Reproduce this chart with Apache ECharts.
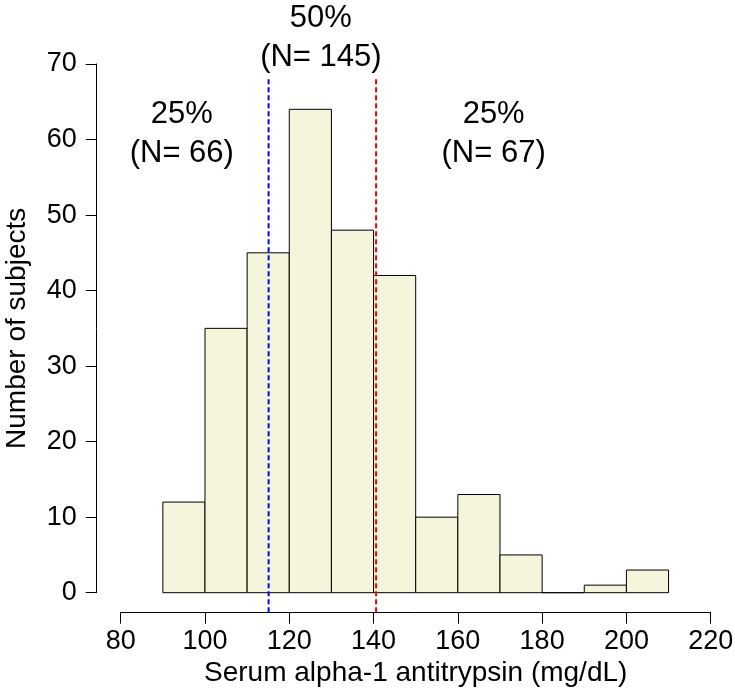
<!DOCTYPE html>
<html>
<head>
<meta charset="utf-8">
<script src="https://cdn.jsdelivr.net/npm/echarts@6/dist/echarts.min.js"></script>
<style>html,body{margin:0;padding:0;background:#fff;}#chart{width:735px;height:695px;}</style>
</head>
<body>
<div id="chart"></div>
<script>
// Histogram bins (lower edges, width 10) and counts
var binStarts = [90, 100, 110, 120, 130, 140, 150, 160, 170, 180, 190, 200];
var binWidth = 10;
var counts = [12, 35, 45, 64, 48, 42, 10, 13, 5, 0, 1, 3];

// Quartile reference lines (x position, y span)
var q1Line = [[115.1, -2.6], [115.1, 68.1]];
var q3Line = [[140.6, -2.6], [140.6, 68.1]];

// Annotation texts with data positions
var annX = [94.5, 127.5, 168.5];
var annY = [60.8, 73.4, 60.8];
var annText = ['25%\n(N= 66)', '50%\n(N= 145)', '25%\n(N= 67)'];

var xTicks = [80, 100, 120, 140, 160, 180, 200, 220];
var yTicks = [0, 10, 20, 30, 40, 50, 60, 70];

var FONT = '"Liberation Sans", Arial, Helvetica, sans-serif';

var histData = binStarts.map(function (s, i) { return [s, s + binWidth, counts[i]]; });
var annData = annX.map(function (x, i) { return [x, annY[i], annText[i]]; });

var chart = echarts.init(document.getElementById('chart'), null, {renderer: 'canvas'});
chart.setOption({
  animation: false,
  backgroundColor: '#ffffff',
  grid: {left: 120.7, right: 735 - 710.7, top: 64, bottom: 695 - 592.7, containLabel: false, outerBoundsMode: 'none'},
  xAxis: {
    type: 'value', min: xTicks[0], max: xTicks[xTicks.length - 1], interval: 20,
    offset: 20,
    axisLine: {show: true, onZero: false, lineStyle: {color: '#000', width: 1}},
    axisTick: {show: true, length: 11, lineStyle: {color: '#000', width: 1}},
    axisLabel: {color: '#000', fontSize: 27, fontFamily: FONT, margin: 15},
    splitLine: {show: false},
    name: 'Serum alpha-1 antitrypsin (mg/dL)',
    nameLocation: 'middle', nameGap: 44,
    nameTextStyle: {color: '#000', fontSize: 28, fontFamily: FONT}
  },
  yAxis: {
    type: 'value', min: yTicks[0], max: yTicks[yTicks.length - 1], interval: 10,
    offset: 24,
    axisLine: {show: true, onZero: false, lineStyle: {color: '#000', width: 1}},
    axisTick: {show: true, length: 11, lineStyle: {color: '#000', width: 1}},
    axisLabel: {color: '#000', fontSize: 27, fontFamily: FONT, margin: 20},
    splitLine: {show: false},
    name: 'Number of subjects',
    nameLocation: 'middle', nameGap: 65, nameRotate: 90,
    nameTextStyle: {color: '#000', fontSize: 28, fontFamily: FONT}
  },
  series: [
    {
      type: 'custom',
      data: histData,
      clip: false,
      renderItem: function (params, api) {
        var p0 = api.coord([api.value(0), api.value(2)]);
        var p1 = api.coord([api.value(1), 0]);
        return {
          type: 'rect',
          shape: {x: p0[0], y: p0[1], width: p1[0] - p0[0], height: p1[1] - p0[1]},
          style: {fill: '#F5F5DC', stroke: '#000', lineWidth: 1}
        };
      },
      z: 2
    },
    {
      type: 'line', data: q1Line, clip: false, symbol: 'none', silent: true,
      lineStyle: {color: '#0000FF', width: 2, type: [5, 3]}, z: 5
    },
    {
      type: 'line', data: q3Line, clip: false, symbol: 'none', silent: true,
      lineStyle: {color: '#FF0000', width: 2, type: [5, 3]}, z: 5
    },
    {
      type: 'scatter', data: annData, clip: false, symbolSize: 0,
      itemStyle: {color: '#000', opacity: 1}, silent: true,
      label: {
        show: true, position: [0, 0],
        formatter: function (p) { return p.value[2]; },
        color: '#000', opacity: 1, textBorderWidth: 0,
        fontSize: 31, fontFamily: FONT, lineHeight: 39, align: 'center', verticalAlign: 'middle'
      },
      z: 6
    }
  ]
});
</script>
</body>
</html>
